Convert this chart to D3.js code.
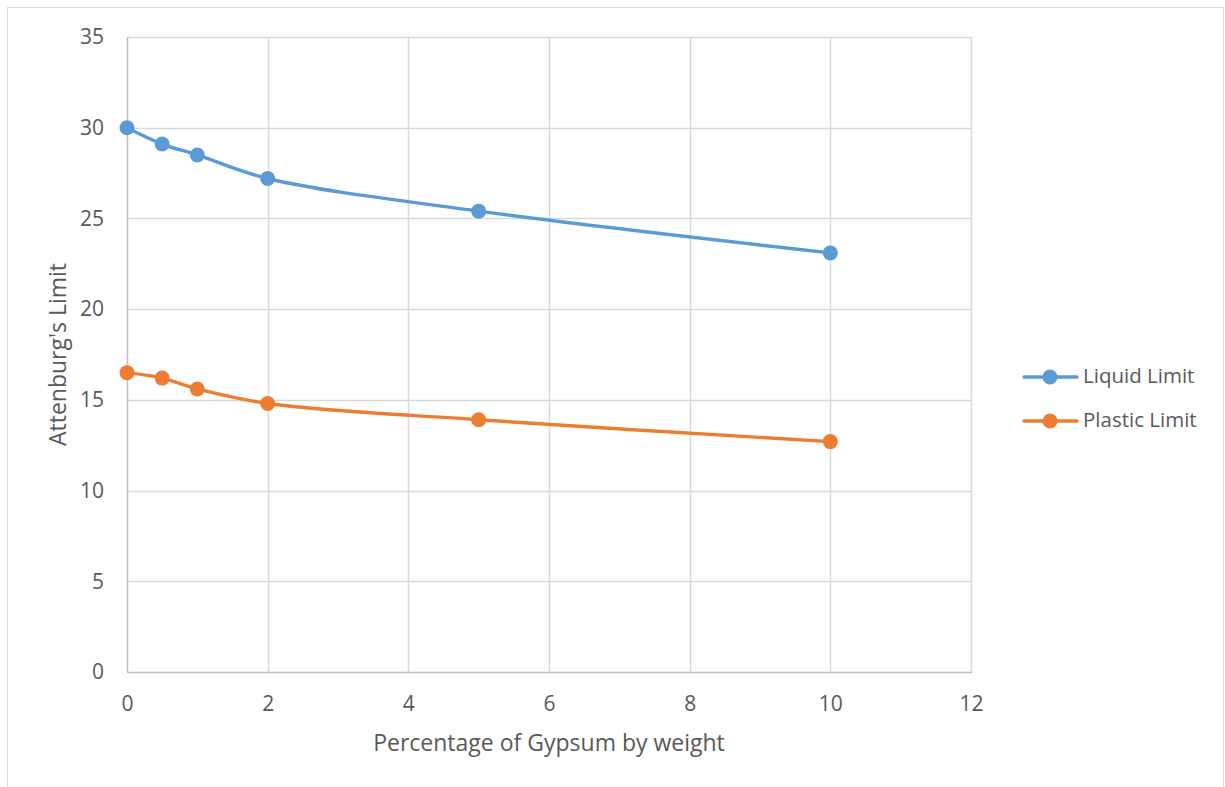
<!DOCTYPE html>
<html>
<head>
<meta charset="utf-8">
<script src="https://cdn.jsdelivr.net/npm/d3@7"></script>
<style>
  html, body { margin: 0; padding: 0; background: #fff; }
  svg { display: block; font-family: "Open Sans", "Noto Sans", sans-serif; }
</style>
</head>
<body>
<svg id="chart" width="1225" height="787"></svg>
<script>
// Gypsum content (% by weight)
const gypsum = [0, 0.5, 1, 2, 5, 10];
// Attenburg's limits for each gypsum content
const liquidLimit = [30, 29.1, 28.5, 27.2, 25.4, 23.1];
const plasticLimit = [16.5, 16.2, 15.6, 14.8, 13.9, 12.7];
const seriesNames = ["Liquid Limit", "Plastic Limit"];
const seriesColors = ["#5B9BD5", "#ED7D31"];
const xTicks = [0, 2, 4, 6, 8, 10, 12];
const yTicks = [0, 5, 10, 15, 20, 25, 30, 35];

const svg = d3.select("#chart");
const W = 1225, H = 787;
const plot = { left: 127, right: 971, top: 37, bottom: 672 };
const textColor = "#595959";

// Outer chart frame
svg.append("rect")
  .attr("x", 7.5).attr("y", 7.5)
  .attr("width", W - 9).attr("height", H)
  .attr("fill", "#fff").attr("stroke", "#d9d9d9").attr("stroke-width", 1);

const x = d3.scaleLinear().domain([0, 12]).range([plot.left, plot.right]);
const y = d3.scaleLinear().domain([0, 35]).range([plot.bottom, plot.top]);

// Gridlines
const grid = svg.append("g");
grid.selectAll("line.v").data(xTicks.filter(d => d > 0)).join("line")
  .attr("x1", d => Math.round(x(d)) + 0.5).attr("x2", d => Math.round(x(d)) + 0.5)
  .attr("y1", plot.top).attr("y2", plot.bottom)
  .attr("stroke", "#d9d9d9").attr("stroke-width", 1.5);
grid.selectAll("line.h").data(yTicks.filter(d => d > 0)).join("line")
  .attr("y1", d => Math.round(y(d)) + 0.5).attr("y2", d => Math.round(y(d)) + 0.5)
  .attr("x1", plot.left).attr("x2", plot.right)
  .attr("stroke", "#d9d9d9").attr("stroke-width", 1.5);

// Axis lines
svg.append("line")
  .attr("x1", plot.left + 0.5).attr("x2", plot.left + 0.5)
  .attr("y1", plot.top).attr("y2", plot.bottom)
  .attr("stroke", "#bfbfbf").attr("stroke-width", 1.5);
svg.append("line")
  .attr("x1", plot.left).attr("x2", plot.right + 1)
  .attr("y1", plot.bottom + 0.5).attr("y2", plot.bottom + 0.5)
  .attr("stroke", "#bfbfbf").attr("stroke-width", 1.5);

// Tick labels via d3 axes
const xAxis = d3.axisBottom(x).tickValues(xTicks).tickSize(0).tickPadding(24);
const gx = svg.append("g").attr("transform", `translate(0,${plot.bottom})`).call(xAxis);
gx.select(".domain").remove();
gx.selectAll("text").attr("fill", textColor).style("font-size", "21px")
  .style("font-family", "'Open Sans', sans-serif");

const yAxis = d3.axisLeft(y).tickValues(yTicks).tickSize(0).tickPadding(23);
const gy = svg.append("g").attr("transform", `translate(${plot.left},0)`).call(yAxis);
gy.select(".domain").remove();
gy.selectAll("text").attr("fill", textColor).style("font-size", "21px")
  .style("font-family", "'Open Sans', sans-serif");

// Axis titles
svg.append("text")
  .attr("x", (plot.left + plot.right) / 2).attr("y", 751)
  .attr("text-anchor", "middle").attr("fill", textColor)
  .style("font-size", "23px")
  .text("Percentage of Gypsum by weight");
svg.append("text")
  .attr("transform", `translate(66,${(plot.top + plot.bottom) / 2}) rotate(-90)`)
  .attr("text-anchor", "middle").attr("fill", textColor)
  .style("font-size", "23px")
  .text("Attenburg's Limit");

// Series
const series = [liquidLimit, plasticLimit];
const line = d3.line()
  .x(d => x(d[0])).y(d => y(d[1]))
  .curve(d3.curveCatmullRom.alpha(0.5));

series.forEach((vals, i) => {
  const pts = gypsum.map((g, j) => [g, vals[j]]);
  svg.append("path").datum(pts)
    .attr("d", line).attr("fill", "none")
    .attr("stroke", seriesColors[i]).attr("stroke-width", 3.4)
    .attr("stroke-linecap", "round");
  svg.append("g").selectAll("circle").data(pts).join("circle")
    .attr("cx", d => x(d[0])).attr("cy", d => y(d[1])).attr("r", 7.5)
    .attr("fill", seriesColors[i]);
});

// Legend
const legend = svg.append("g");
seriesNames.forEach((name, i) => {
  const ly = 377 + i * 44;
  legend.append("line")
    .attr("x1", 1024).attr("x2", 1077).attr("y1", ly).attr("y2", ly)
    .attr("stroke", seriesColors[i]).attr("stroke-width", 3.4)
    .attr("stroke-linecap", "round");
  legend.append("circle").attr("cx", 1050).attr("cy", ly).attr("r", 7.5)
    .attr("fill", seriesColors[i]);
  legend.append("text").attr("x", 1083).attr("y", ly + 6)
    .attr("fill", textColor).style("font-size", "20.5px")
    .text(name);
});
</script>
</body>
</html>
